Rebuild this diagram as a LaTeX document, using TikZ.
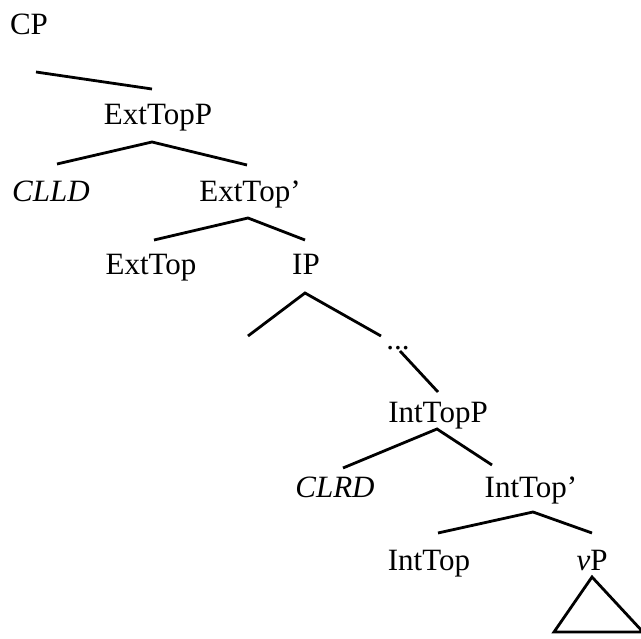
\documentclass[tikz,border=0pt]{standalone}
\usepackage{fontspec}
\setmainfont{Liberation Serif}
\usetikzlibrary{calc}
\tikzset{
  lbl/.style={anchor=base,inner sep=0pt,font=\fontsize{31}{37}\selectfont},
  branch/.style={line width=2.8pt},
}

\begin{document}
\begin{tikzpicture}[x=1pt,y=-1pt]
  \useasboundingbox (0,0) rectangle (641,639);
  % labels, each sitting on its baseline
  \node[lbl] (CP)      at (29,35)   {CP};
  \node[lbl] (ExtTopP) at (158,125) {ExtTopP};
  \node[lbl] (CLLD)    at (51,202)  {\itshape CLLD};
  \node[lbl] (ExtTopb) at (250,202) {ExtTop'};
  \node[lbl] (ExtTop)  at (151,275) {ExtTop};
  \node[lbl] (IP)      at (306,275) {IP};
  \node[lbl] (dots)    at (398,350) {...};
  \node[lbl] (IntTopP) at (438,423) {IntTopP};
  \node[lbl] (CLRD)    at (335,497) {\itshape CLRD};
  \node[lbl] (IntTopb) at (531,498) {IntTop'};
  \node[lbl] (IntTop)  at (429,570) {IntTop};
  \node[lbl] (vP)      at (592,570) {\textit{v}P};
  % free ends
  \coordinate (IPleft) at (248,336);
  \coordinate (triL)   at (554,632);
  \coordinate (triR)   at (643,632);
  % branches
  \draw[branch] ([shift={(7,37)}]CP.base) -- ([shift={(-6,-36)}]ExtTopP.base);
  \draw[branch] ([shift={(6,-38)}]CLLD.base) -- ([shift={(-6,17)}]ExtTopP.base)
                -- ([shift={(-3,-37)}]ExtTopb.base);
  \draw[branch] ([shift={(3,-35)}]ExtTop.base) -- ([shift={(-2,16)}]ExtTopb.base)
                -- ([shift={(-1,-35)}]IP.base);
  \draw[branch] (IPleft) -- ([shift={(-1,18)}]IP.base) -- ([shift={(-17,-14)}]dots.base);
  \draw[branch] ([shift={(2,1)}]dots.base) -- ([shift={(0,-31)}]IntTopP.base);
  \draw[branch] ([shift={(8,-29)}]CLRD.base) -- ([shift={(-1,6)}]IntTopP.base)
                -- ([shift={(-39,-33)}]IntTopb.base);
  \draw[branch] ([shift={(9,-37)}]IntTop.base) -- ([shift={(2,14)}]IntTopb.base)
                -- ([shift={(0,-37)}]vP.base);
  % the vP triangle
  \draw[branch] ([shift={(0,7)}]vP.base) -- (triL) -- (triR) -- cycle;
\end{tikzpicture}
\end{document}
